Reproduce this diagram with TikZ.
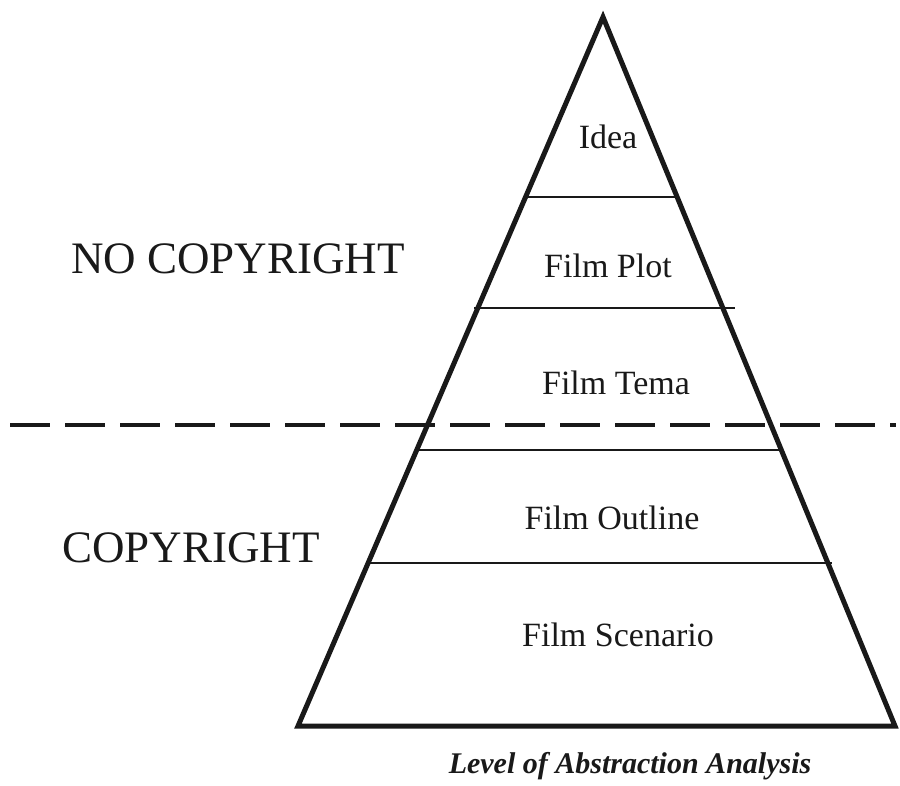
\documentclass[tikz,border=0pt]{standalone}
\usepackage{fontspec}
\setmainfont{Liberation Serif}
\begin{document}
\begin{tikzpicture}[x=1pt,y=-1pt,
  ink/.style={draw=black!90},
  edge/.style={ink,line width=5pt,line join=miter},
  divider/.style={ink,line width=1.8pt},
  cutline/.style={ink,line width=4pt,dash pattern=on 40pt off 15pt},
  level/.style={font=\fontsize{34}{38}\selectfont,text=black!90,inner sep=0pt},
  zone/.style={font=\fontsize{45}{50}\selectfont,text=black!90,inner sep=0pt,anchor=west},
  caption/.style={font=\fontsize{30}{34}\selectfont\bfseries\itshape,text=black!90,inner sep=0pt}]
  \useasboundingbox (0,0) rectangle (900,785);

  % pyramid outline
  \coordinate (apex) at (603,17);
  \coordinate (bl) at (298,726);
  \coordinate (br) at (895,726);
  \draw[edge] (apex) -- (bl) -- (br) -- cycle;

  % level dividers
  \coordinate (d1l) at (528,197); \coordinate (d1r) at (679,197);
  \coordinate (d2l) at (474,308); \coordinate (d2r) at (735,308);
  \coordinate (d3l) at (415,450); \coordinate (d3r) at (782,450);
  \coordinate (d4l) at (370,563); \coordinate (d4r) at (832,563);
  \draw[divider] (d1l) -- (d1r);
  \draw[divider] (d2l) -- (d2r);
  \draw[divider] (d3l) -- (d3r);
  \draw[divider] (d4l) -- (d4r);

  % copyright boundary
  \coordinate (cutA) at (10,425);
  \coordinate (cutB) at (896,425);
  \draw[cutline] (cutA) -- (cutB);

  % level labels
  \node[level] (idea) at (608,137) {Idea};
  \node[level] (plot) at (608,266) {Film Plot};
  \node[level] (tema) at (616,383) {Film Tema};
  \node[level] (outline) at (612,518) {Film Outline};
  \node[level] (scenario) at (618,635) {Film Scenario};

  % zone labels
  \node[zone] (nocopy) at (71,259) {NO COPYRIGHT};
  \node[zone] (copy) at (62,548) {COPYRIGHT};

  \node[caption] (cap) at (630,766) {Level of Abstraction Analysis};
\end{tikzpicture}
\end{document}
